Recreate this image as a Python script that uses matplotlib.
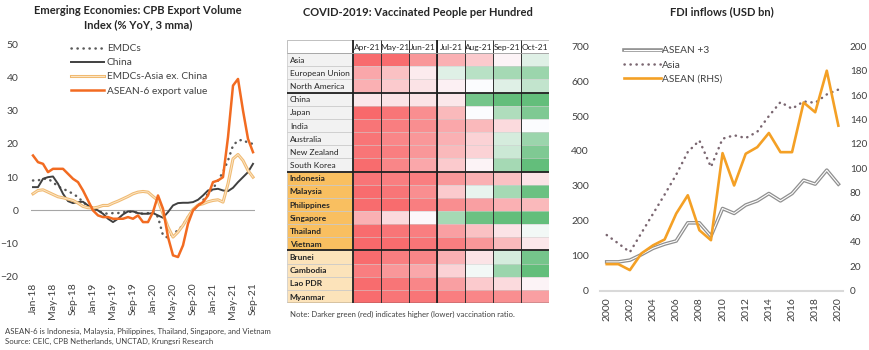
import matplotlib

matplotlib.use("Agg")
import matplotlib.pyplot as plt
import matplotlib.patheffects as pe
import numpy as np
from matplotlib.colors import LinearSegmentedColormap, TwoSlopeNorm
from matplotlib.patches import Rectangle

plt.rcParams["font.family"] = ["Lato", "DejaVu Sans"]

# ---- left panel: CPB export volume, % YoY 3mma, Jan-18 .. Sep-21
month_ticks = ["Jan-18", "May-18", "Sep-18", "Jan-19", "May-19", "Sep-19",
               "Jan-20", "May-20", "Sep-20", "Jan-21", "May-21", "Sep-21"]
emdcs = [9, 9, 9.5, 9.5, 8.5, 7.2, 6.5, 5.8, 5, 4, 2.5, 1.3, 0.5, 0, -0.8,
         -1, -0.8, -0.8, -0.5, -0.5, -0.3, -0.8, -1, -0.8, -0.3, -2, -7.5,
         -8.2, -7, -6, -4.4, -2, 0, 1.5, 3, 5, 6.5, 9, 11.5, 15, 19.5, 21,
         21.2, 20.3, 20]
china = [7, 7, 9.5, 10, 10.2, 8, 5, 2.8, 2.2, 2.5, 2.6, 1.5, 0.8, 0, -1,
         -2.5, -3.5, -2.5, -1.2, -0.3, -0.3, -0.8, -1, -1, -0.8, -1.5, -2.2,
         -0.5, 1.5, 2.2, 2.3, 2.3, 2.5, 3.2, 4.5, 6, 6.3, 6.5, 6, 5.8, 6.8,
         8.5, 10, 11.5, 14]
asia_ex_china = [5, 6, 6.2, 5.5, 4.8, 4.1, 3.8, 3.4, 3, 2.2, 1.2, 0.8, 0.7,
                 1, 1.5, 1.5, 2.2, 2.8, 3.5, 4.2, 5, 5.5, 5.7, 5.5, 4.2, 3,
                 -1, -5, -8, -6.5, -4.5, -2, 0.3, 1.6, 2, 2.6, 3, 3.2, 2.5, 8,
                 15.5, 16.8, 15, 12, 10]
asean6 = [16.5, 14.5, 14, 11.5, 12.5, 12.5, 12.5, 11, 9.5, 8.5, 6, 3, 0,
          -1.5, -2, -2, -2.5, -2.5, -2.5, -2, -2.5, -1.5, -3.5, -3.5, -0.5,
          4.5, 0.5, -8, -13.5, -14, -10.5, -4, 0, 1.5, 2.5, 4.5, 8.5, 9, 10,
          22, 37.5, 39.5, 30, 21.5, 17.5]

# ---- middle panel: vaccinated people per hundred
vax_months = ["Apr-21", "May-21", "Jun-21", "Jul-21", "Aug-21", "Sep-21", "Oct-21"]
vax_countries = ["Asia", "European Union", "North America", "China", "Japan",
                 "India", "Australia", "New Zealand", "South Korea",
                 "Indonesia", "Malaysia", "Philippines", "Singapore",
                 "Thailand", "Vietnam", "Brunei", "Cambodia", "Lao PDR",
                 "Myanmar"]
vax_values = [
    [6, 6, 16, 22, 28, 38, 46],
    [20, 26, 36, 46, 54, 58, 60],
    [22, 28, 34, 37, 40, 46, 52],
    [35, 34, 34, 35, 68, 72, 72],
    [4, 8, 14, 24, 40, 56, 66],
    [8, 10, 14, 20, 24, 32, 40],
    [8, 12, 16, 22, 30, 48, 60],
    [8, 10, 16, 24, 30, 50, 66],
    [6, 12, 20, 28, 38, 58, 72],
    [8, 10, 10, 16, 22, 26, 34],
    [6, 8, 14, 28, 44, 58, 70],
    [6, 6, 10, 14, 18, 22, 24],
    [22, 32, 39, 58, 70, 72, 72],
    [6, 8, 10, 18, 26, 34, 42],
    [4, 6, 8, 10, 16, 24, 35],
    [6, 10, 12, 22, 34, 48, 68],
    [10, 16, 20, 30, 42, 60, 72],
    [6, 8, 12, 18, 28, 32, 38],
    [6, 8, 8, 10, 12, 14, 18],
]

# ---- right panel: FDI inflows, USD bn
fdi_years = list(range(2000, 2021))
fdi_asean_plus3 = [82, 82, 87, 103, 121, 133, 142, 194, 194, 156, 235, 221,
                   245, 257, 278, 257, 278, 316, 305, 345, 305]
fdi_asia = [159, 135, 110, 165, 220, 275, 332, 397, 430, 354, 435, 445, 437,
            455, 500, 540, 521, 542, 538, 562, 576]
fdi_asean = [21.6, 21.6, 16.7, 30.4, 37, 41.8, 63, 78, 49.4, 41.2, 112.5, 86,
             112, 117.4, 129, 113.3, 113.3, 154, 146, 180, 135]

W, H = 870, 350
fig = plt.figure(figsize=(W / 100, H / 100), dpi=100)


def px_axes(x0, y0, x1, y1):
    # pixel box (top-left origin) -> figure axes
    return fig.add_axes([x0 / W, 1 - y1 / H, (x1 - x0) / W, (y1 - y0) / H])


dots = dict(linestyle=(0, (0.1, 2.3)), dash_capstyle="round")
tick_fs = 7.5

# ================= left chart
ax1 = px_axes(31, 44, 255, 277)
x = np.arange(len(emdcs))
ax1.axhline(0, color="#A6A6A6", lw=0.8, zorder=1)
ax1.plot(x, emdcs, color="#595959", lw=1.8, label="EMDCs", **dots)
ax1.plot(x, china, color="#404040", lw=1.4, label="China")
ax1.plot(x, asia_ex_china, color="#FCE6C6", lw=0.7, label="EMDCs-Asia ex. China",
         path_effects=[pe.Stroke(linewidth=2.2, foreground="#F0BA72"), pe.Normal()])
ax1.plot(x, asean6, color="#F26B21", lw=1.8, label="ASEAN-6 export value")
ax1.set_xlim(-0.4, 44.4)
ax1.set_ylim(-20, 50)
ax1.set_yticks(range(-20, 51, 10))
ax1.set_xticks(range(0, 45, 4))
ax1.set_xticklabels(month_ticks, rotation=90)
ax1.tick_params(length=0, labelsize=tick_fs, colors="#404040")
ax1.tick_params(axis="y", pad=9)
ax1.tick_params(axis="x", pad=4)
for s in ax1.spines.values():
    s.set_visible(False)
ax1.legend(loc="upper left", bbox_to_anchor=(0.18, 1.0), frameon=False,
           fontsize=7.3, handlelength=3.2, handletextpad=0.3, labelspacing=0.5,
           borderpad=0, borderaxespad=0, labelcolor="#404040")

fig.text(138 / W, 1 - 18 / H, "Emerging Economies: CPB Export Volume\nIndex (% YoY, 3 mma)",
         ha="center", va="center", fontsize=8, fontweight="bold", color="#262626",
         linespacing=1.35)
fig.text(5 / W, 1 - 331 / H,
         "ASEAN-6 is Indonesia, Malaysia, Philippines, Thailand, Singapore, and Vietnam",
         ha="left", va="center", fontsize=5.6, color="#404040")
fig.text(5 / W, 1 - 341 / H, "Source: CEIC, CPB Netherlands, UNCTAD, Krungsri Research",
         ha="left", va="center", fontsize=5.6, color="#404040")

# ================= middle heatmap
ax2 = px_axes(287, 40, 549, 303)
label_w = 66 / 28
cmap = LinearSegmentedColormap.from_list("rwg", ["#F8696B", "#FCFCFF", "#63BE7B"])
norm = TwoSlopeNorm(vmin=5, vcenter=40, vmax=72)
ax2.pcolormesh(np.arange(len(vax_months) + 1), np.arange(len(vax_countries) + 1),
               np.array(vax_values), cmap=cmap, norm=norm)
ax2.set_xlim(-label_w, len(vax_months))
ax2.set_ylim(len(vax_countries), -1)
ax2.axis("off")

for i, name in enumerate(vax_countries):
    if i < 9:
        fc, bold = "#F2F2F2", False
    elif i < 15:
        fc, bold = "#F9BF60", True
    else:
        fc, bold = "#FCE3BA", True
    ax2.add_patch(Rectangle((-label_w, i), label_w, 1, facecolor=fc,
                            edgecolor="#C8C8C8", lw=0.5))
    ax2.text(-label_w + 0.1, i + 0.55, name, ha="left", va="center", fontsize=6,
             fontweight="bold" if bold else "normal", color="#262626")
ax2.add_patch(Rectangle((-label_w, -1), label_w + len(vax_months), 1,
                        facecolor="white", edgecolor="none"))
for j, m in enumerate(vax_months):
    ax2.add_patch(Rectangle((j, -1), 1, 1, facecolor="white", edgecolor="#A6A6A6", lw=0.5))
    ax2.text(j + 0.5, -0.45, m, ha="center", va="center", fontsize=6, color="#262626")
ax2.add_patch(Rectangle((-label_w, -1), label_w, 1, facecolor="white",
                        edgecolor="#A6A6A6", lw=0.5))

ax2.hlines(np.arange(1, len(vax_countries)), 0, len(vax_months), color="#D0D0D0", lw=0.4)
ax2.vlines(np.arange(1, len(vax_months)), -1, len(vax_countries), color="#303030", lw=0.7)
ax2.vlines([0, 3], -1, len(vax_countries), color="#202020", lw=1.3)
ax2.hlines([3, 9, 15], -label_w, len(vax_months), color="#202020", lw=1.3)
ax2.hlines([len(vax_countries)], -label_w, len(vax_months), color="#404040", lw=1.0)
ax2.hlines([0], -label_w, len(vax_months), color="#A6A6A6", lw=0.6)

fig.text(418 / W, 1 - 12 / H, "COVID-2019: Vaccinated People per Hundred",
         ha="center", va="center", fontsize=8, fontweight="bold", color="#262626")
fig.text(290 / W, 1 - 314 / H,
         "Note: Darker green (red) indicates higher (lower) vaccination ratio.",
         ha="left", va="center", fontsize=5.6, color="#404040")

# ================= right chart
ax3 = px_axes(600, 46.3, 843, 290.5)
ax3r = ax3.twinx()
l1, = ax3.plot(fdi_years, fdi_asean_plus3, color="white", lw=0.8, label="ASEAN +3",
               path_effects=[pe.Stroke(linewidth=2.6, foreground="#8F8F8F"), pe.Normal()])
l2, = ax3.plot(fdi_years, fdi_asia, color="#7A6670", lw=1.8, label="Asia", **dots)
l3, = ax3r.plot(fdi_years, fdi_asean, color="#F4A025", lw=1.9, label="ASEAN (RHS)")
ax3.set_xlim(1999.42, 2020.4)
ax3.set_ylim(0, 700)
ax3r.set_ylim(0, 200)
ax3.set_yticks(range(0, 701, 100))
ax3r.set_yticks(range(0, 201, 20))
ax3.set_xticks(fdi_years[::2])
ax3.tick_params(axis="x", rotation=90, pad=5)
for a in (ax3, ax3r):
    a.tick_params(length=0, labelsize=tick_fs, colors="#404040")
    for s in a.spines.values():
        s.set_visible(False)
ax3.tick_params(axis="y", pad=8)
ax3r.tick_params(axis="y", pad=5, labelsize=7.2)
ax3.spines["bottom"].set_visible(True)
ax3.spines["bottom"].set_color("#D9D9D9")
ax3.spines["bottom"].set_linewidth(1.5)
ax3r.legend([l1, l2, l3], ["ASEAN +3", "Asia", "ASEAN (RHS)"], loc="upper left",
            bbox_to_anchor=(0.1, 1.0), frameon=False, fontsize=7.3, handlelength=3.6,
            handletextpad=0.1, labelspacing=0.5, borderpad=0, borderaxespad=0,
            labelcolor="#404040")

fig.text(722 / W, 1 - 12 / H, "FDI inflows (USD bn)", ha="center", va="center",
         fontsize=8, fontweight="bold", color="#262626")

fig.savefig("out.png", dpi=100)
